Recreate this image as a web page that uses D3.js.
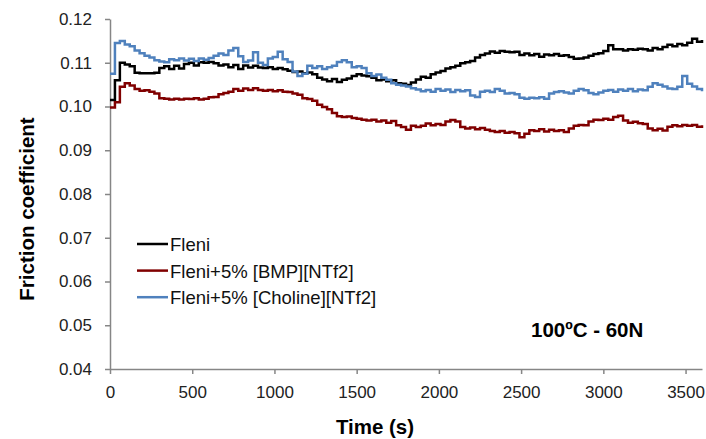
<!DOCTYPE html>
<html>
<head>
<meta charset="utf-8">
<script src="https://cdn.jsdelivr.net/npm/d3@7"></script>
<style>
  body { margin: 0; background: #fff; }
  text { font-family: "Liberation Sans", Arial, sans-serif; }
</style>
</head>
<body>
<div id="chart"></div>
<script>
// Data: one sample every 30 s from 0 to 3600 s
let step = 30;

let fleni = [
  0.1015, 0.1060, 0.1100, 0.1096, 0.1092, 0.1077, 0.1076, 0.1076, 0.1076, 0.1077,
  0.1088, 0.1092, 0.1086, 0.1093, 0.1087, 0.1097, 0.1100, 0.1094, 0.1101, 0.1100,
  0.1102, 0.1099, 0.1094, 0.1096, 0.1090, 0.1095, 0.1086, 0.1094, 0.1089, 0.1093,
  0.1089, 0.1088, 0.1090, 0.1086, 0.1088, 0.1085, 0.1082, 0.1079, 0.1080, 0.1076,
  0.1078, 0.1074, 0.1066, 0.1062, 0.1058, 0.1063, 0.1056, 0.1061, 0.1064, 0.1070,
  0.1074, 0.1071, 0.1069, 0.1066, 0.1060, 0.1062, 0.1058, 0.1060, 0.1053, 0.1052,
  0.1049, 0.1055, 0.1062, 0.1068, 0.1066, 0.1074, 0.1078, 0.1081, 0.1087, 0.1090,
  0.1093, 0.1099, 0.1101, 0.1104, 0.1112, 0.1118, 0.1121, 0.1126, 0.1123, 0.1127,
  0.1125, 0.1124, 0.1125, 0.1118, 0.1121, 0.1117, 0.1120, 0.1114, 0.1119, 0.1117,
  0.1120, 0.1116, 0.1117, 0.1113, 0.1109, 0.1110, 0.1112, 0.1116, 0.1120, 0.1122,
  0.1127, 0.1140, 0.1131, 0.1131, 0.1128, 0.1131, 0.1130, 0.1132, 0.1131, 0.1128,
  0.1134, 0.1131, 0.1136, 0.1141, 0.1138, 0.1143, 0.1140, 0.1146, 0.1155, 0.1148,
  0.1152
];

let bmp = [
  0.0998, 0.1010, 0.1045, 0.1053, 0.1048, 0.1040, 0.1036, 0.1037, 0.1034, 0.1030,
  0.1019, 0.1018, 0.1016, 0.1018, 0.1016, 0.1018, 0.1017, 0.1019, 0.1016, 0.1018,
  0.1021, 0.1022, 0.1028, 0.1031, 0.1034, 0.1040, 0.1036, 0.1041, 0.1038, 0.1042,
  0.1038, 0.1036, 0.1038, 0.1035, 0.1037, 0.1034, 0.1033, 0.1030, 0.1027, 0.1019,
  0.1017, 0.1013, 0.1004, 0.0999, 0.0994, 0.0985, 0.0978, 0.0976, 0.0977, 0.0974,
  0.0972, 0.0970, 0.0968, 0.0970, 0.0966, 0.0968, 0.0963, 0.0967, 0.0957, 0.0953,
  0.0947, 0.0956, 0.0953, 0.0956, 0.0961, 0.0957, 0.0960, 0.0958, 0.0966, 0.0969,
  0.0966, 0.0953, 0.0950, 0.0952, 0.0948, 0.0951, 0.0947, 0.0944, 0.0942, 0.0944,
  0.0940, 0.0942, 0.0939, 0.0930, 0.0938, 0.0946, 0.0944, 0.0948, 0.0943, 0.0947,
  0.0944, 0.0946, 0.0942, 0.0950, 0.0956, 0.0958, 0.0957, 0.0966, 0.0970, 0.0969,
  0.0972, 0.0970, 0.0976, 0.0979, 0.0968, 0.0963, 0.0965, 0.0962, 0.0960, 0.0950,
  0.0946, 0.0949, 0.0945, 0.0954, 0.0957, 0.0955, 0.0958, 0.0956, 0.0958, 0.0954,
  0.0957
];

let choline = [
  0.1075, 0.1145, 0.1150, 0.1142, 0.1138, 0.1128, 0.1122, 0.1116, 0.1112, 0.1106,
  0.1103, 0.1101, 0.1108, 0.1106, 0.1110, 0.1105, 0.1109, 0.1104, 0.1110, 0.1107,
  0.1111, 0.1116, 0.1121, 0.1118, 0.1128, 0.1134, 0.1115, 0.1102, 0.1105, 0.1124,
  0.1100, 0.1095, 0.1110, 0.1113, 0.1125, 0.1108, 0.1102, 0.1080, 0.1070, 0.1075,
  0.1093, 0.1088, 0.1092, 0.1086, 0.1090, 0.1093, 0.1102, 0.1106, 0.1101, 0.1090,
  0.1092, 0.1088, 0.1076, 0.1070, 0.1073, 0.1066, 0.1061, 0.1053, 0.1050, 0.1048,
  0.1046, 0.1042, 0.1039, 0.1035, 0.1038, 0.1034, 0.1040, 0.1036, 0.1039, 0.1033,
  0.1038, 0.1035, 0.1037, 0.1025, 0.1022, 0.1034, 0.1036, 0.1033, 0.1040, 0.1036,
  0.1030, 0.1031, 0.1028, 0.1020, 0.1018, 0.1020, 0.1019, 0.1021, 0.1018, 0.1030,
  0.1033, 0.1035, 0.1032, 0.1030, 0.1036, 0.1040, 0.1037, 0.1031, 0.1028, 0.1032,
  0.1036, 0.1038, 0.1034, 0.1039, 0.1036, 0.1040, 0.1035, 0.1039, 0.1037, 0.1045,
  0.1053, 0.1050, 0.1046, 0.1041, 0.1040, 0.1045, 0.1070, 0.1052, 0.1046, 0.1040,
  0.1035
];

let seriesNames = ['Fleni', 'Fleni+5% [BMP][NTf2]', 'Fleni+5% [Choline][NTf2]'];
let seriesColors = ['#000000', '#800000', '#4f81bd'];
let xTicks = [0, 500, 1000, 1500, 2000, 2500, 3000, 3500];
let yTicks = [0.04, 0.05, 0.06, 0.07, 0.08, 0.09, 0.10, 0.11, 0.12];

let width = 706,
    height = 439;

let margin = {top: 19, bottom: 70, left: 110, right: 4};

let svg = d3.select('#chart')
  .append('svg')
  .attr('width', width)
  .attr('height', height)
  .style('background', '#fff');

let xScale = d3.scaleLinear()
  .domain([0, 3600])
  .range([margin.left, width - margin.right]);

let yScale = d3.scaleLinear()
  .domain([0.04, 0.12])
  .range([height - margin.bottom, margin.top]);

// axes
let xAxis = svg.append('g')
  .attr('transform', `translate(0,${height - margin.bottom})`)
  .call(d3.axisBottom(xScale).tickValues(xTicks).tickFormat(d3.format('d')).tickSize(5).tickSizeOuter(0).tickPadding(12));

let yAxis = svg.append('g')
  .attr('transform', `translate(${margin.left},0)`)
  .call(d3.axisLeft(yScale).tickValues(yTicks).tickFormat(d3.format('.2f')).tickSize(5).tickSizeOuter(0).tickPadding(13));

svg.selectAll('.domain, .tick line').attr('stroke', '#868686').attr('stroke-width', 1.5);
svg.selectAll('.tick text')
  .style('font-size', '17px')
  .style('font-family', '"Liberation Sans", Arial, sans-serif')
  .attr('fill', '#222');

// axis titles
svg.append('text')
  .attr('x', 375)
  .attr('y', 434)
  .text('Time (s)')
  .style('text-anchor', 'middle')
  .style('font-weight', 'bold')
  .style('font-size', '20.5px');

svg.append('text')
  .attr('transform', 'translate(34,209) rotate(-90)')
  .text('Friction coefficient')
  .style('text-anchor', 'middle')
  .style('font-weight', 'bold')
  .style('font-size', '20.5px');

// lines
let line = d3.line()
  .x((d, i) => xScale(i * step))
  .y(d => yScale(d))
  .curve(d3.curveStepAfter);

let allSeries = [fleni, bmp, choline];

svg.selectAll('path.series')
  .data(allSeries)
  .enter()
  .append('path')
  .attr('class', 'series')
  .attr('d', d => line(d))
  .attr('fill', 'none')
  .attr('stroke', (d, i) => seriesColors[i])
  .attr('stroke-width', 2.5)
  .attr('stroke-linejoin', 'miter');

// legend
let legend = svg.selectAll('g.legend')
  .data(seriesNames)
  .enter()
  .append('g')
  .attr('class', 'legend')
  .attr('transform', (d, i) => `translate(137,${244 + i * 26.6})`);

legend.append('line')
  .attr('x1', 0)
  .attr('x2', 31)
  .attr('stroke', (d, i) => seriesColors[i])
  .attr('stroke-width', 2.5);

legend.append('text')
  .attr('x', 33)
  .attr('y', 7)
  .text(d => d)
  .style('font-size', '18.5px')
  .attr('fill', '#111');

// annotation
svg.append('text')
  .attr('x', 531)
  .attr('y', 337)
  .text('100ºC - 60N')
  .style('font-weight', 'bold')
  .style('font-size', '20.5px');
</script>
</body>
</html>
